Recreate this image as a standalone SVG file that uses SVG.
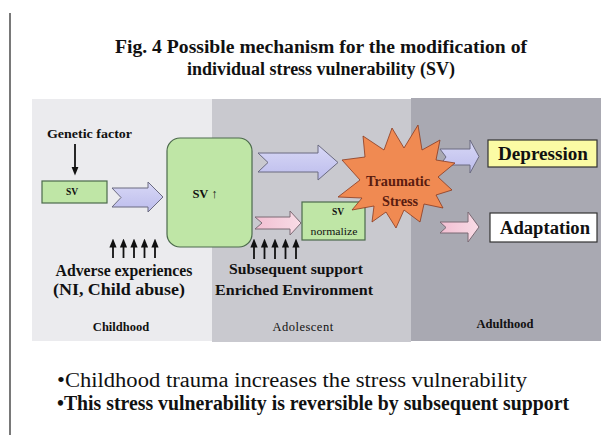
<svg xmlns="http://www.w3.org/2000/svg" width="616" height="435" viewBox="0 0 616 435">
  <defs>
    <linearGradient id="topRule" x1="0" y1="0" x2="1" y2="0">
      <stop offset="0" stop-color="#111"/>
      <stop offset="0.45" stop-color="#3a4a3a"/>
      <stop offset="1" stop-color="#6e8a78"/>
    </linearGradient>
    <linearGradient id="lavFill" x1="0" y1="0" x2="0" y2="1">
      <stop offset="0" stop-color="#d8d8f6"/>
      <stop offset="1" stop-color="#bcbcec"/>
    </linearGradient>
    <linearGradient id="pinkFill" x1="0" y1="0" x2="1" y2="0">
      <stop offset="0" stop-color="#f2bfd2"/>
      <stop offset="1" stop-color="#f8dce6"/>
    </linearGradient>
    <marker id="head" viewBox="0 0 10 10" refX="5" refY="5" markerWidth="5" markerHeight="5" orient="auto">
      <path d="M0,1 L10,5 L0,9 Z" fill="#111"/>
    </marker>
    <style>
      text { font-family: 'Liberation Serif', 'Times New Roman', Times, serif; fill: #111; }
      .b { font-weight: bold; }
      .n { font-weight: normal; }
      .burst { fill: #5a1c10; }
      .sv { fill: #bfe6a6; stroke: #4c6a4c; stroke-width: 1.2; }
      .lav { fill: url(#lavFill); stroke: #6a6a80; stroke-width: 1; }
      .pink { fill: url(#pinkFill); stroke: #7a6a74; stroke-width: 1; }
      .up { stroke: #111; stroke-width: 1.8; marker-end: url(#head); }
    </style>
  </defs>

  <!-- page -->
  <rect x="0" y="0" width="616" height="435" fill="#ffffff"/>
  <line x1="10" y1="14" x2="616" y2="14" stroke="url(#topRule)" stroke-width="2.2"/>
  <line x1="10" y1="13" x2="10" y2="435" stroke="#6a6a6a" stroke-width="1.8"/>

  <!-- title -->
  <g id="title">
    <text class="b" x="321" y="53" font-size="18" text-anchor="middle" textLength="412" lengthAdjust="spacingAndGlyphs">Fig. 4  Possible mechanism for the modification of</text>
    <text class="b" x="321" y="75" font-size="18" text-anchor="middle" textLength="268" lengthAdjust="spacingAndGlyphs">individual stress vulnerability (SV)</text>
  </g>

  <!-- life-stage bands -->
  <g id="bands">
    <rect x="32" y="99" width="180" height="242" fill="#ebebee"/>
    <rect x="212" y="99" width="199" height="243" fill="#c9c9cf"/>
    <rect x="411" y="98" width="190" height="243" fill="#a9a9b2"/>
    <text class="b" x="121" y="331" font-size="12.5" text-anchor="middle">Childhood</text>
    <text class="n" x="303" y="331" font-size="12.5" text-anchor="middle" letter-spacing="0.5">Adolescent</text>
    <text class="b" x="505" y="328" font-size="12.5" text-anchor="middle">Adulthood</text>
  </g>

  <!-- connectors -->
  <g id="connectors">
    <line class="up" x1="75" y1="144" x2="75" y2="171"/>
    <line class="up" x1="113" y1="258" x2="113" y2="243"/>
    <line class="up" x1="123.5" y1="258" x2="123.5" y2="243"/>
    <line class="up" x1="134" y1="258" x2="134" y2="243"/>
    <line class="up" x1="144.5" y1="258" x2="144.5" y2="243"/>
    <line class="up" x1="155" y1="258" x2="155" y2="243"/>
    <line class="up" x1="254" y1="259" x2="254" y2="243"/>
    <line class="up" x1="264.5" y1="259" x2="264.5" y2="243"/>
    <line class="up" x1="275" y1="259" x2="275" y2="243"/>
    <line class="up" x1="285.5" y1="259" x2="285.5" y2="243"/>
    <line class="up" x1="296" y1="259" x2="296" y2="243"/>
    <polygon class="lav" points="112,188 148,188 148,182 163,197 148,212 148,207 112,207 121,197.5"/>
    <polygon class="lav" points="258,153 318,153 318,145 338,162.5 318,180 318,172 258,172 268,162.5"/>
    <polygon class="pink" points="255,217 290,217 290,211 301,223 290,235 290,229 255,229 262,223"/>
    <polygon class="lav" points="440,149 470,149 470,140 479,156.5 470,173 470,165 440,165 446,157"/>
    <polygon class="pink" points="440,222 468,222 468,212 479,227 468,242 468,233 440,233 446,227.5"/>
  </g>

  <!-- childhood nodes -->
  <g id="genetic">
    <text class="b" x="47" y="138" font-size="13" textLength="85" lengthAdjust="spacingAndGlyphs">Genetic factor</text>
  </g>
  <g id="sv-base">
    <rect class="sv" x="42" y="181" width="65" height="22"/>
    <text class="b" x="72" y="195" font-size="9.5" text-anchor="middle">SV</text>
  </g>
  <g id="sv-high">
    <rect class="sv" x="167" y="138" width="85" height="109" rx="13" ry="13"/>
    <text class="b" x="205" y="198" font-size="12.5" text-anchor="middle">SV ↑</text>
  </g>
  <g id="adverse">
    <text class="b" x="124" y="276" font-size="16" text-anchor="middle" textLength="137" lengthAdjust="spacingAndGlyphs">Adverse experiences</text>
    <text class="b" x="119" y="295" font-size="16" text-anchor="middle" textLength="132" lengthAdjust="spacingAndGlyphs">(NI, Child abuse)</text>
  </g>

  <!-- adolescent nodes -->
  <g id="sv-normalize">
    <rect class="sv" x="302" y="202" width="63" height="38"/>
    <text class="b" x="338" y="215" font-size="9.5" text-anchor="middle">SV</text>
    <text class="n" x="334" y="235" font-size="9.5" text-anchor="middle" textLength="47" lengthAdjust="spacingAndGlyphs">normalize</text>
  </g>
  <g id="support">
    <text class="b" x="296" y="274" font-size="15" text-anchor="middle" textLength="134" lengthAdjust="spacingAndGlyphs">Subsequent support</text>
    <text class="b" x="294" y="295" font-size="15" text-anchor="middle" textLength="158" lengthAdjust="spacingAndGlyphs">Enriched Environment</text>
  </g>
  <g id="trauma">
    <polygon points="338,197 360,180 342,160 365,157 363,136 384,150 392,128 404,148 418,125 422,150 440,140 436,160 455,163 438,177 452,190 436,195 443,208 424,204 420,222 404,210 396,228 386,212 372,222 374,206 352,210 362,198"
      fill="#f08a52" stroke="#8a3a20" stroke-width="0.8"/>
    <text class="b burst" x="398" y="186" font-size="14" text-anchor="middle" textLength="64" lengthAdjust="spacingAndGlyphs">Traumatic</text>
    <text class="b burst" x="400" y="206" font-size="14" text-anchor="middle" textLength="36" lengthAdjust="spacingAndGlyphs">Stress</text>
  </g>

  <!-- adulthood nodes -->
  <g id="depression">
    <rect x="488" y="140" width="109" height="27" fill="#fbfba4" stroke="#333" stroke-width="1.2"/>
    <text class="b" x="543" y="160" font-size="18" text-anchor="middle" textLength="90" lengthAdjust="spacingAndGlyphs">Depression</text>
  </g>
  <g id="adaptation">
    <rect x="490" y="213" width="107" height="29" fill="#ffffff" stroke="#333" stroke-width="1.2"/>
    <text class="b" x="545" y="234" font-size="18" text-anchor="middle" textLength="90" lengthAdjust="spacingAndGlyphs">Adaptation</text>
  </g>

  <!-- summary -->
  <g id="summary">
    <text class="n" x="57" y="387" font-size="20" textLength="470" lengthAdjust="spacingAndGlyphs">•Childhood trauma increases the stress vulnerability</text>
    <text class="b" x="57" y="410" font-size="20" textLength="512" lengthAdjust="spacingAndGlyphs">•This stress vulnerability is reversible by subsequent support</text>
  </g>
</svg>
